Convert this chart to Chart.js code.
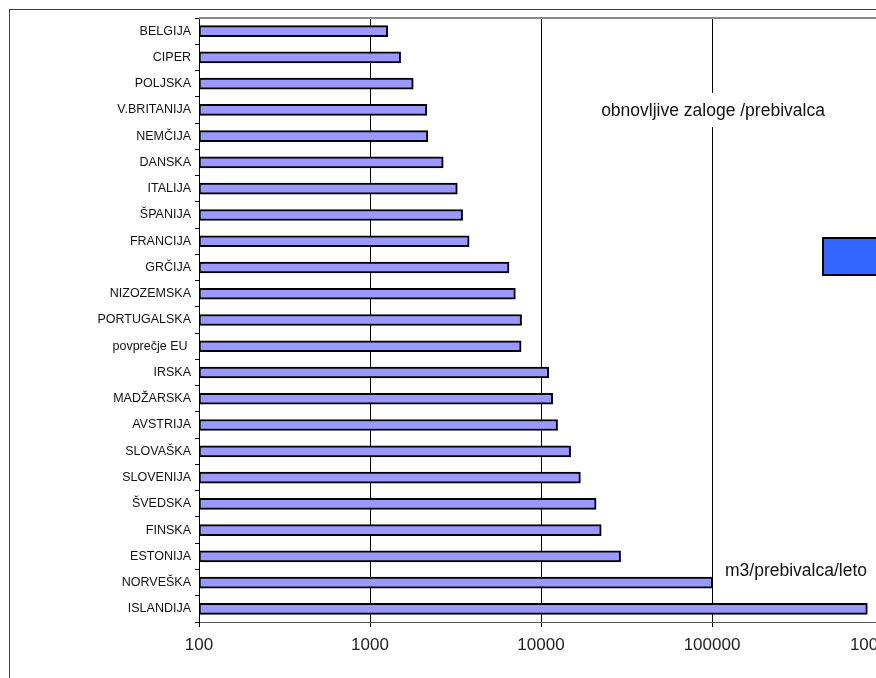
<!DOCTYPE html>
<html>
<head>
<meta charset="utf-8">
<script src="https://cdn.jsdelivr.net/npm/chart.js@4/dist/chart.umd.min.js"></script>
<style>
  html, body { margin: 0; padding: 0; overflow: hidden; background: #fff; }
  #wrap { width: 940px; height: 700px; }
</style>
</head>
<body>
<div id="wrap"><canvas id="zalogeChart" width="940" height="700"></canvas></div>
<script>
// drzave, od najmanjse do najvecje vrednosti
const drzave = ['BELGIJA', 'CIPER', 'POLJSKA', 'V.BRITANIJA', 'NEMČIJA', 'DANSKA', 'ITALIJA',
  'ŠPANIJA', 'FRANCIJA', 'GRČIJA', 'NIZOZEMSKA', 'PORTUGALSKA', 'povprečje EU ', 'IRSKA',
  'MADŽARSKA', 'AVSTRIJA', 'SLOVAŠKA', 'SLOVENIJA', 'ŠVEDSKA', 'FINSKA', 'ESTONIJA',
  'NORVEŠKA', 'ISLANDIJA'];
// m3 / prebivalca / leto
const zaloge = [1270, 1510, 1790, 2150, 2180, 2680, 3240, 3480, 3800, 6500, 7080, 7700, 7650,
  11100, 11700, 12500, 14900, 17000, 21000, 22500, 29200, 101000, 810000];
const xTicks = [100, 1000, 10000, 100000, 1000000];
const naslov = 'obnovljive zaloge /prebivalca';
const enota = 'm3/prebivalca/leto';

const FONT = "'Liberation Sans', Arial, sans-serif";

//-----------------okvir, napisi in legenda-----------------------------
const decor = {
  id: 'decor',
  beforeDraw(chart) {
    const ctx = chart.ctx;
    ctx.save();
    ctx.strokeStyle = '#404040';
    ctx.lineWidth = 1;
    ctx.strokeRect(9.5, 9.5, chart.width, chart.height);
    ctx.restore();
  },
  afterDraw(chart) {
    const ctx = chart.ctx;
    const a = chart.chartArea;
    ctx.save();
    // zgornji rob risalne povrsine
    ctx.strokeStyle = '#8a8a8a';
    ctx.lineWidth = 2;
    ctx.beginPath();
    ctx.moveTo(a.left, a.top);
    ctx.lineTo(a.right, a.top);
    ctx.stroke();

    ctx.font = '17.5px ' + FONT;
    ctx.textBaseline = 'middle';
    ctx.textAlign = 'center';
    const w = ctx.measureText(naslov).width;
    ctx.fillStyle = '#fff';
    ctx.fillRect(713 - w / 2 - 4, 93, w + 8, 34);
    ctx.fillStyle = '#111';
    ctx.fillText(naslov, 713, 111);

    ctx.textAlign = 'left';
    ctx.fillText(enota, 725, 571);

    // legenda
    ctx.fillStyle = '#3366ff';
    ctx.fillRect(823, 238, 80, 37);
    ctx.strokeStyle = '#000';
    ctx.lineWidth = 2;
    ctx.strokeRect(823, 238, 80, 37);
    ctx.restore();
  }
};

const zalogeChart = new Chart(document.getElementById('zalogeChart'), {
  type: 'bar',
  data: {
    labels: drzave,
    datasets: [{
      label: naslov,
      data: zaloge,
      backgroundColor: '#9999ff',
      borderColor: '#000',
      borderWidth: 2,
      borderSkipped: false,
      barThickness: 11
    }]
  },
  options: {
    indexAxis: 'y',
    responsive: false,
    animation: false,
    layout: {
      padding: { top: 18, right: 57, left: 0, bottom: 0 }
    },
    plugins: {
      legend: { display: false },
      tooltip: { enabled: false }
    },
    scales: {
      x: {
        type: 'logarithmic',
        min: 100,
        max: 1000000,
        afterFit: function(scale) { scale.height = 78; },
        afterBuildTicks: function(scale) {
          scale.ticks = xTicks.map(v => ({ value: v }));
        },
        grid: {
          color: '#000',
          lineWidth: 1,
          drawTicks: true,
          tickLength: 5,
          tickColor: '#000'
        },
        border: { color: '#555', width: 1 },
        ticks: {
          padding: 8,
          color: '#222',
          maxRotation: 0,
          font: { family: FONT, size: 17 },
          callback: function(value) { return String(value); }
        }
      },
      y: {
        afterFit: function(scale) { scale.width = 199; },
        grid: {
          drawOnChartArea: false,
          drawTicks: true,
          tickLength: 4,
          tickColor: '#000'
        },
        border: { color: '#000', width: 1 },
        ticks: {
          padding: 4,
          color: '#111',
          autoSkip: false,
          font: { family: FONT, size: 12.5 }
        }
      }
    }
  },
  plugins: [decor]
});
</script>
</body>
</html>
